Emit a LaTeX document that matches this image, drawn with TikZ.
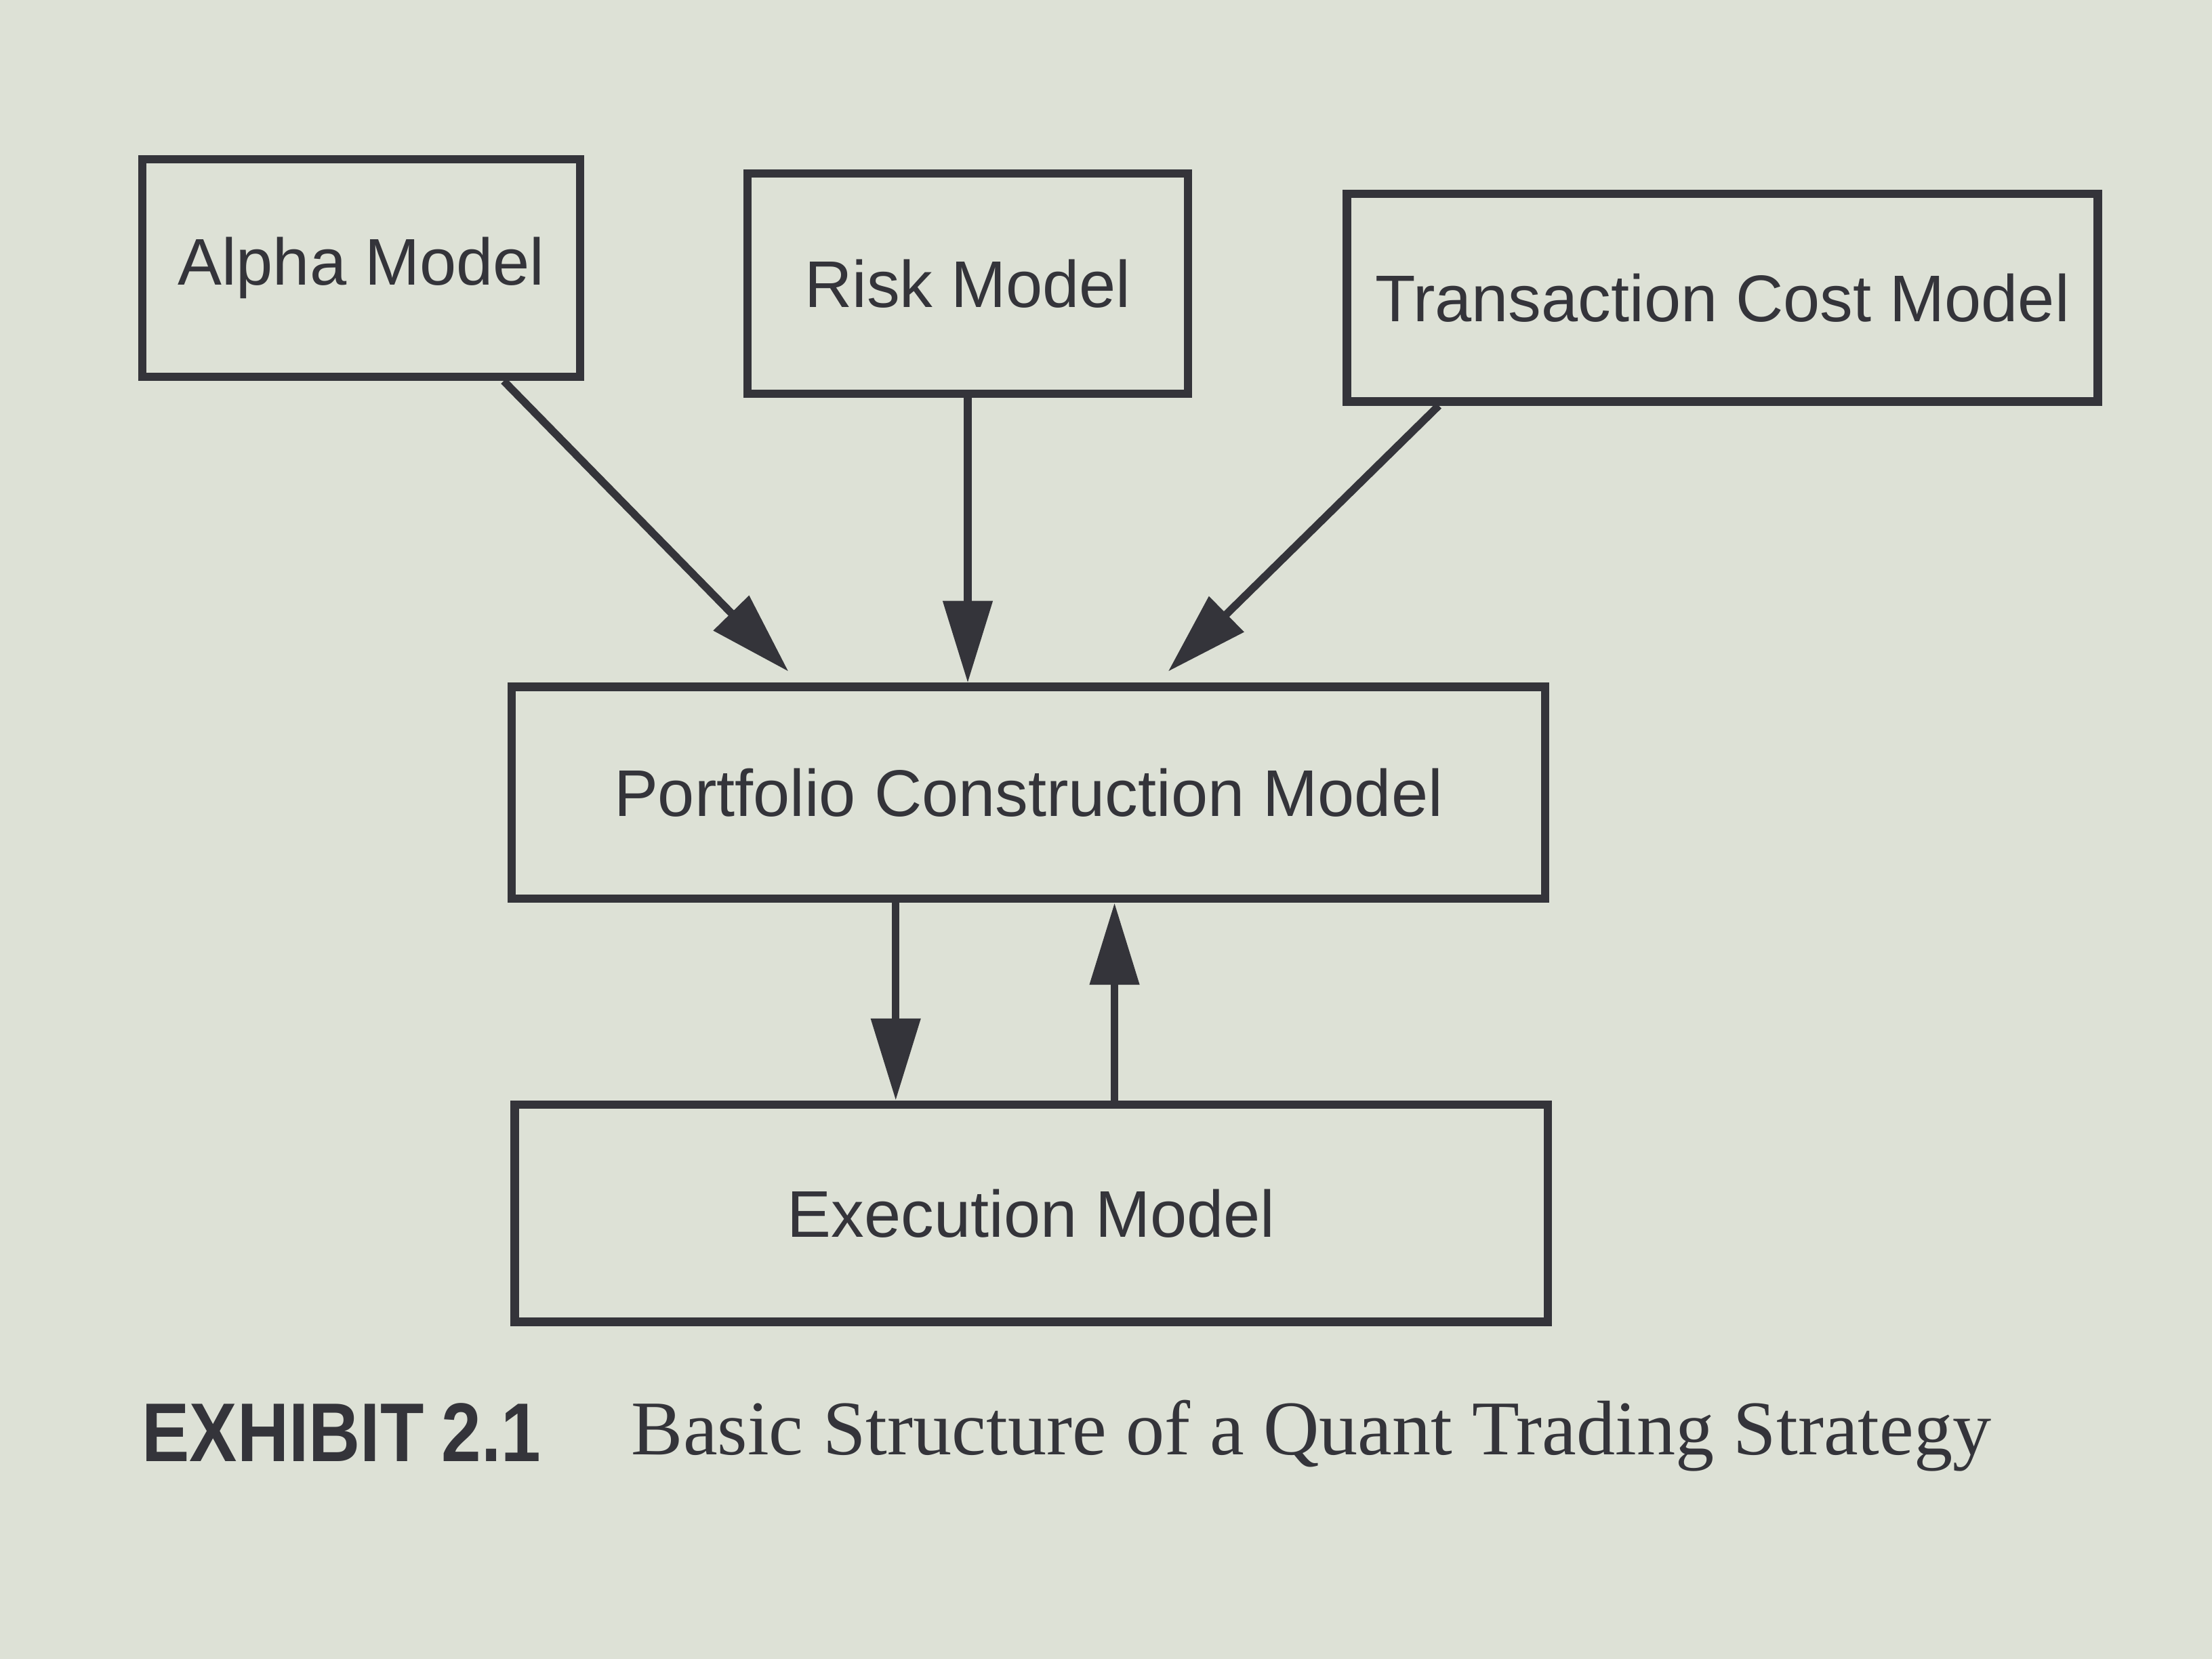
\documentclass[tikz,border=0pt]{standalone}
\usepackage{fontspec}
\setmainfont{Liberation Serif}
\newfontfamily\boxfont{Liberation Sans}
\usetikzlibrary{arrows.meta}
\definecolor{paper}{RGB}{221,225,214}
\definecolor{ink}{RGB}{52,52,58}
\tikzset{
  modelbox/.style={draw=ink, line width=1.7pt, inner sep=0pt, text=ink,
    font=\boxfont\fontsize{13.3}{16}\selectfont},
  flow/.style={draw=ink, line width=1.55pt,
    -{Triangle[length=16.5pt,width=9.7pt]}},
}
\begin{document}
\begin{tikzpicture}[x=0.01cm,y=-0.01cm]
\fill[paper] (0,0) rectangle (1568,1176);
\useasboundingbox (0,0) rectangle (1568,1176);
\node[modelbox, minimum width=3.10cm, minimum height=1.54cm] (alpha) at (256,190) {Alpha Model};
\node[modelbox, minimum width=3.12cm, minimum height=1.56cm] (risk) at (686,201) {Risk Model};
\node[modelbox, minimum width=5.32cm, minimum height=1.47cm] (tc) at (1221,211) {Transaction Cost Model};
\node[modelbox, minimum width=7.32cm, minimum height=1.50cm] (port) at (729,562) {Portfolio Construction Model};
\node[modelbox, minimum width=7.32cm, minimum height=1.54cm] (exec) at (731,860) {Execution Model};
\draw[flow] ([xshift=1.01cm]alpha.south) -- ([xshift=-1.70cm,yshift=0.08cm]port.north);
\draw[flow] (risk.south) -- (risk.south |- port.north);
\draw[flow] ([xshift=-2.01cm]tc.south) -- ([xshift=0.99cm,yshift=0.08cm]port.north);
\draw[flow] ([xshift=-0.94cm]port.south) -- ([xshift=-0.94cm]port.south |- exec.north);
\draw[flow] ([xshift=0.59cm]exec.north) -- ([xshift=0.59cm]exec.north |- port.south);
\node[anchor=base west, inner sep=0pt, text=ink] (exh) at (100,1036)
  {\scalebox{0.9}[1.05]{\boxfont\bfseries\fontsize{16}{18}\selectfont EXHIBIT\hspace{0.25em}2.1}};
\node[anchor=base west, inner sep=0pt, text=ink] (cap) at (447,1031)
  {\fontsize{15.6}{18}\selectfont Basic Structure of a Quant Trading Strategy};
\end{tikzpicture}
\end{document}
